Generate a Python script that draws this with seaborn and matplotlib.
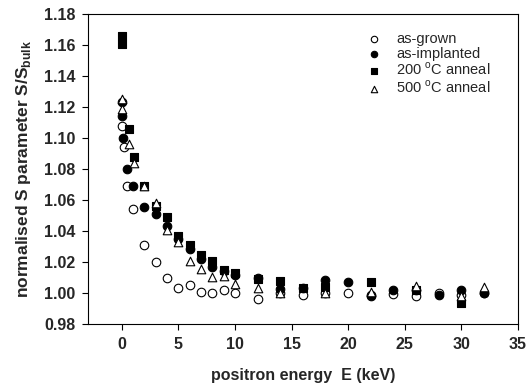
import matplotlib
matplotlib.use('Agg')
import matplotlib.pyplot as plt
import seaborn as sns
import pandas as pd

# as-grown (open circles)
e_grown = [0, 0.2, 0.5, 1, 2, 3, 4, 5, 6, 7, 8, 9, 10, 12, 14, 16, 18, 20, 22, 24, 26, 28, 30, 32]
s_grown = [1.108, 1.094, 1.069, 1.054, 1.031, 1.020, 1.010, 1.003, 1.005, 1.0006, 1.000, 1.0017, 1.000,
           0.996, 1.000, 0.999, 1.000, 1.000, 0.999, 0.9996, 0.998, 1.000, 0.999, 1.000]

# as-implanted (filled circles)
e_impl = [0, 0, 0.1, 0.5, 1, 2, 3, 4, 5, 6, 7, 8, 9, 10, 12, 14, 16, 18, 20, 22, 24, 26, 28, 30, 32]
s_impl = [1.123, 1.114, 1.100, 1.080, 1.069, 1.0555, 1.0512, 1.0432, 1.035, 1.0286, 1.022, 1.0168, 1.0142,
          1.0114, 1.0097, 1.0028, 1.0032, 1.0082, 1.0071, 0.998, 1.0017, 1.0017, 0.9985, 1.002, 1.0003]

# 200 C anneal (filled squares)
e_200 = [0, 0, 0.6, 1.1, 2, 3, 4, 5, 6, 7, 8, 9, 10, 12, 14, 16, 18, 22, 26, 30]
s_200 = [1.1656, 1.1606, 1.106, 1.088, 1.069, 1.056, 1.049, 1.037, 1.0308, 1.0243, 1.0206, 1.0151, 1.0131,
         1.009, 1.0077, 1.003, 1.0039, 1.0071, 1.002, 0.9935]

# 500 C anneal (open triangles)
e_500 = [0, 0, 0.6, 1.1, 2, 3, 4, 5, 6, 7, 8, 9, 10, 12, 14, 18, 22, 26, 30, 32]
s_500 = [1.125, 1.119, 1.096, 1.084, 1.069, 1.058, 1.0405, 1.033, 1.0204, 1.0157, 1.0103, 1.0108, 1.006,
         1.0035, 1.0003, 1.000, 1.0006, 1.0043, 0.998, 1.0039]

sns.set_style('ticks')
plt.rcParams['font.family'] = ['Liberation Sans', 'DejaVu Sans']
plt.rcParams['mathtext.fontset'] = 'custom'
plt.rcParams['mathtext.rm'] = 'Liberation Sans'
plt.rcParams['mathtext.bf'] = 'Liberation Sans:bold'

fig = plt.figure(figsize=(5.29, 3.89), dpi=100)
ax = fig.add_axes([0.166, 0.167, 0.813, 0.797])

ms = 38
sns.scatterplot(x=e_grown, y=s_grown, marker='o', s=ms, facecolor='white', edgecolor='black',
                linewidth=0.8, label='as-grown', ax=ax, zorder=3)
sns.scatterplot(x=e_impl, y=s_impl, marker='o', s=ms, color='black', edgecolor='black',
                linewidth=0.8, label='as-implanted', ax=ax, zorder=3)
sns.scatterplot(x=e_200, y=s_200, marker='s', s=ms, color='black', edgecolor='black',
                linewidth=0.8, label=r'200 $^{\mathrm{o}}$C anneal', ax=ax, zorder=3)
sns.scatterplot(x=e_500, y=s_500, marker='^', s=ms, facecolor='white', edgecolor='black',
                linewidth=0.8, label=r'500 $^{\mathrm{o}}$C anneal', ax=ax, zorder=3)

ax.set_xlim(-3, 35)
ax.set_ylim(0.98, 1.18)
ax.set_xticks(range(0, 36, 5))
ax.set_yticks([0.98 + 0.02 * i for i in range(11)])
ax.set_yticklabels([f'{0.98 + 0.02 * i:.2f}' for i in range(11)])
for lab in ax.get_xticklabels() + ax.get_yticklabels():
    lab.set_fontweight('bold')
    lab.set_fontsize(11.5)
ax.tick_params(direction='out', length=4, width=0.8, color='black', pad=5)

for sp in ax.spines.values():
    sp.set_color('black')
    sp.set_linewidth(0.8)

ax.set_xlabel('positron energy  E (keV)', fontsize=11.5, fontweight='bold', labelpad=12)
ax.set_ylabel(r'normalised S parameter S/S$_{\mathbf{bulk}}$', fontsize=12.5, fontweight='bold', labelpad=8)

leg = ax.legend(loc='upper left', bbox_to_anchor=(0.602, 0.985), frameon=False, fontsize=10.5,
                handletextpad=0.5, labelspacing=0.05, markerscale=0.75)

fig.savefig('out.png', dpi=100)
